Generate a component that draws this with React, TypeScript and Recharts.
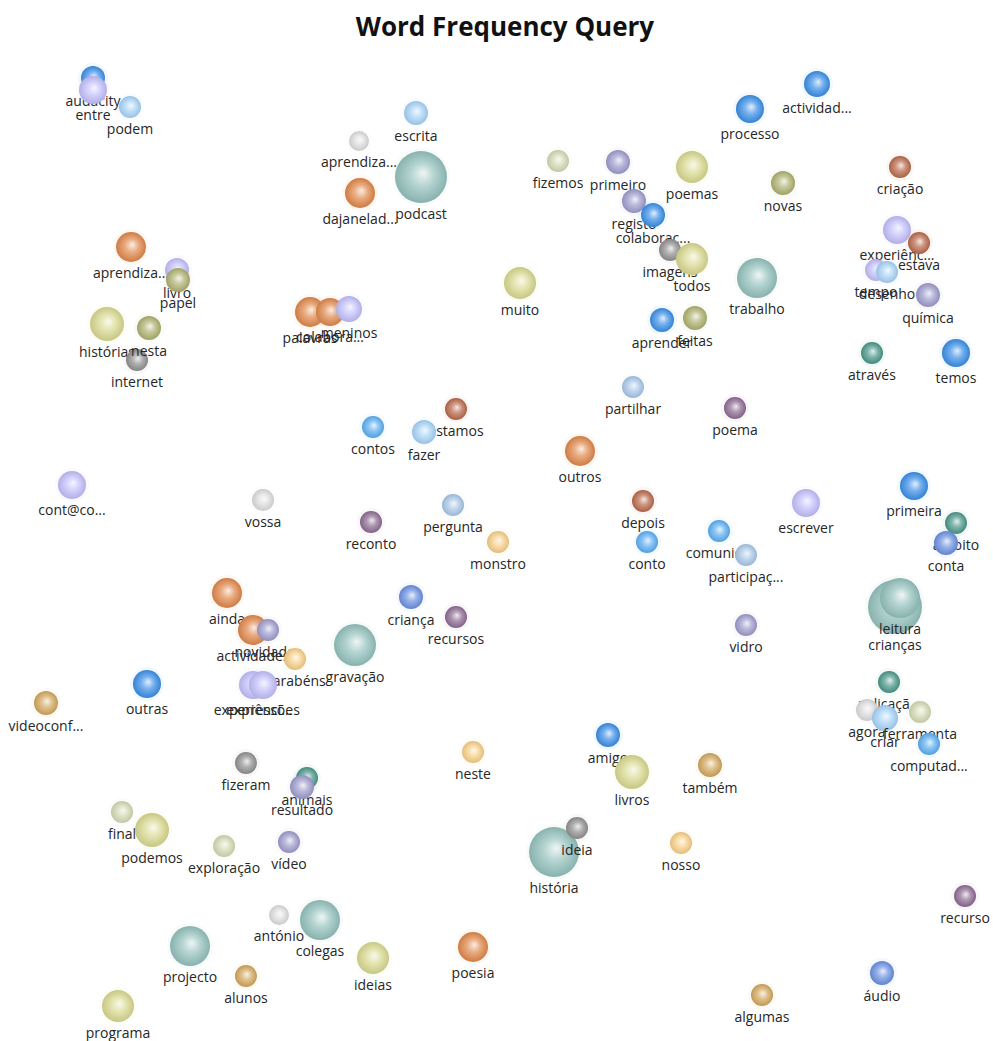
import { ScatterChart, Scatter, XAxis, YAxis } from 'recharts';

// Word cluster map: position of each word, bubble size (frequency) and colour cluster.
const WORDS = [
  'audacity', 'entre', 'podem', 'escrita', 'aprendiza...', 'podcast', 'dajanelad...',
  'fizemos', 'primeiro', 'poemas', 'processo', 'actividad...', 'novas', 'criação',
  'registo', 'colaboraç...', 'imagens', 'todos', 'trabalho', 'experiênc...', 'estava',
  'tempo', 'desenho', 'química', 'aprender', 'feitas', 'através', 'temos', 'muito',
  'aprendiza...', 'livro', 'papel', 'histórias', 'internet', 'nesta', 'palavras',
  'colabora...', 'meninos', 'contos', 'estamos', 'fazer', 'partilhar', 'outros', 'poema',
  'cont@co...', 'vossa', 'reconto', 'pergunta', 'monstro', 'depois', 'conto',
  'comunic...', 'participaç...', 'escrever', 'primeira', 'âmbito', 'conta', 'crianças',
  'leitura', 'vidro', 'aplicaçã...', 'agora', 'criar', 'ferramenta', 'computad...',
  'ainda', 'actividades', 'novidades', 'parabéns', 'gravação', 'criança', 'recursos',
  'experiênci...', 'expressões', 'outras', 'videoconf...', 'fizeram', 'animais',
  'resultado', 'final', 'podemos', 'exploração', 'vídeo', 'antónio', 'colegas',
  'projecto', 'alunos', 'programa', 'ideias', 'poesia', 'neste', 'amigo', 'livros',
  'também', 'história', 'ideia', 'nosso', 'recurso', 'áudio', 'algumas',
];

const WORD_X = [
  93, 93, 130, 416, 359, 421, 360,
  558, 618, 692, 750, 817, 783, 900,
  634, 653, 670, 692, 757, 897, 919,
  876, 887, 928, 662, 695, 872, 956, 520,
  131, 177, 178, 107, 137, 149, 310,
  330, 349, 373, 456, 424, 633, 580, 735,
  72, 263, 371, 453, 498, 643, 647,
  719, 746, 806, 914, 956, 946, 895,
  900, 746, 889, 867, 885, 920, 929,
  227, 253, 268, 295, 355, 411, 456,
  253, 263, 147, 46, 246, 307,
  302, 122, 152, 224, 289, 279, 320,
  190, 246, 118, 373, 473, 473, 608, 632,
  710, 554, 577, 681, 965, 882, 762,
];

const WORD_Y = [
  78, 90, 107, 113, 141, 177, 193,
  161, 162, 167, 109, 84, 183, 167,
  201, 215, 250, 259, 278, 230, 243,
  270, 272, 295, 320, 318, 353, 353, 283,
  247, 270, 280, 324, 360, 328, 312,
  312, 309, 427, 409, 432, 387, 451, 408,
  485, 500, 522, 505, 542, 501, 542,
  531, 555, 503, 486, 523, 543, 607,
  598, 625, 682, 710, 718, 712, 744,
  593, 630, 630, 659, 645, 597, 617,
  685, 685, 684, 703, 763, 778,
  787, 812, 830, 846, 842, 915, 920,
  946, 976, 1006, 958, 947, 752, 735, 772,
  765, 852, 828, 843, 896, 973, 995,
];

const WORD_SIZE = [
  12, 14, 11, 12, 10, 26, 15,
  11, 12, 16, 14, 13, 12, 11,
  12, 12, 11, 16, 20, 14, 11,
  11, 11, 12, 12, 12, 11, 14, 16,
  15, 12, 12, 17, 11, 12, 15,
  14, 13, 11, 11, 12, 11, 15, 11,
  14, 11, 11, 11, 11, 11, 11,
  11, 11, 14, 14, 11, 12, 27,
  20, 11, 11, 11, 13, 11, 11,
  15, 15, 11, 11, 21, 12, 11,
  14, 14, 14, 12, 11, 11,
  12, 11, 17, 11, 11, 10, 20,
  20, 11, 16, 16, 15, 11, 12, 17,
  12, 25, 11, 11, 11, 12, 11,
];

const WORD_GROUP = [
  'blue', 'lavender', 'lightblue', 'lightblue', 'lightgray', 'teal', 'orange',
  'pale', 'grayLav', 'yellow', 'blue', 'blue', 'olive', 'brown',
  'grayLav', 'blue', 'gray', 'yellow', 'teal', 'lavender', 'brown',
  'lavender', 'lightblue', 'grayLav', 'blue', 'olive', 'green', 'blue', 'yellow',
  'orange', 'lavender', 'olive', 'yellow', 'gray', 'olive', 'orange',
  'orange', 'lavender', 'sky', 'brown', 'lightblue', 'steel', 'orange', 'purple',
  'lavender', 'lightgray', 'purple', 'steel', 'lightorange', 'brown', 'sky',
  'sky', 'steel', 'lavender', 'blue', 'green', 'blueMed', 'teal',
  'teal', 'grayLav', 'green', 'lightgray', 'lightblue', 'pale', 'sky',
  'orange', 'orange', 'grayLav', 'lightorange', 'teal', 'blueMed', 'purple',
  'lavender', 'lavender', 'blue', 'tan', 'gray', 'green',
  'grayLav', 'pale', 'yellow', 'pale', 'grayLav', 'lightgray', 'teal',
  'teal', 'tan', 'yellow', 'yellow', 'orange', 'lightorange', 'blue', 'yellow',
  'tan', 'teal', 'gray', 'lightorange', 'purple', 'blueMed', 'tan',
];

const GROUP_COLORS: Record<string, string> = {
  blue: '#3a8ee6',
  lightblue: '#a6d2f7',
  lavender: '#c2befa',
  grayLav: '#9e9bcc',
  orange: '#e0874a',
  teal: '#94c2bd',
  yellow: '#d8d890',
  olive: '#aeb070',
  pale: '#d3d8b2',
  brown: '#b8684a',
  green: '#4a9688',
  purple: '#8d6a92',
  gray: '#8f8f8f',
  lightgray: '#dcdcdc',
  lightorange: '#f6cf86',
  tan: '#d2a65c',
  blueMed: '#6a8fe0',
  sky: '#5badf2',
  steel: '#a8c6e6',
};

const data = WORDS.map((word, i) => ({
  word,
  x: WORD_X[i],
  y: WORD_Y[i],
  r: WORD_SIZE[i],
  group: WORD_GROUP[i],
}));

// blend a hex colour toward white (t > 0) or black (t < 0)
function mix(hex: string, t: number): string {
  const n = parseInt(hex.slice(1), 16);
  const ch = [(n >> 16) & 255, (n >> 8) & 255, n & 255].map((c) =>
    Math.round(t >= 0 ? c + (255 - c) * t : c * (1 + t))
  );
  return `rgb(${ch[0]},${ch[1]},${ch[2]})`;
}

const FONT = '"Open Sans", "DejaVu Sans", sans-serif';

function Bubble(props: any) {
  const { cx, cy, payload } = props;
  const r = payload.r;
  const base = GROUP_COLORS[payload.group];
  return (
    <g>
      <circle cx={cx} cy={cy} r={r + 3} fill={base} opacity={0.06} />
      <circle cx={cx} cy={cy} r={r} fill={`url(#sphere-${payload.group})`} />
      <text
        x={cx}
        y={cy + r + 10}
        textAnchor="middle"
        dominantBaseline="central"
        fontSize={14}
        fontFamily={FONT}
        fill="#262626">
        {payload.word}
      </text>
    </g>
  );
}

export default function App() {
  return (
    <div
      style={{
        position: 'absolute',
        left: 0,
        top: 0,
        width: 993,
        height: 1041,
        background: '#fff',
        overflow: 'hidden',
      }}>
      <svg width={0} height={0} style={{ position: 'absolute' }}>
        <defs>
          {Object.keys(GROUP_COLORS).map((g) => (
            <radialGradient key={g} id={`sphere-${g}`} cx="50%" cy="50%" r="50%" fx="55%" fy="42%">
              <stop offset="0%" stopColor={mix(GROUP_COLORS[g], 0.85)} />
              <stop offset="45%" stopColor={mix(GROUP_COLORS[g], 0.3)} />
              <stop offset="100%" stopColor={mix(GROUP_COLORS[g], -0.08)} />
            </radialGradient>
          ))}
        </defs>
      </svg>
      <div
        style={{
          position: 'absolute',
          top: 8,
          left: 0,
          width: 1010,
          textAlign: 'center',
          fontFamily: FONT,
          fontWeight: 700,
          fontSize: 26,
          lineHeight: '36px',
          color: '#111',
        }}>
        Word Frequency Query
      </div>
      <ScatterChart width={993} height={1041} margin={{ top: 0, right: 0, bottom: 0, left: 0 }}>
        <XAxis type="number" dataKey="x" domain={[0, 993]} hide />
        <YAxis type="number" dataKey="y" domain={[0, 1041]} reversed hide />
        <Scatter data={data} shape={Bubble} isAnimationActive={false} />
      </ScatterChart>
    </div>
  );
}
